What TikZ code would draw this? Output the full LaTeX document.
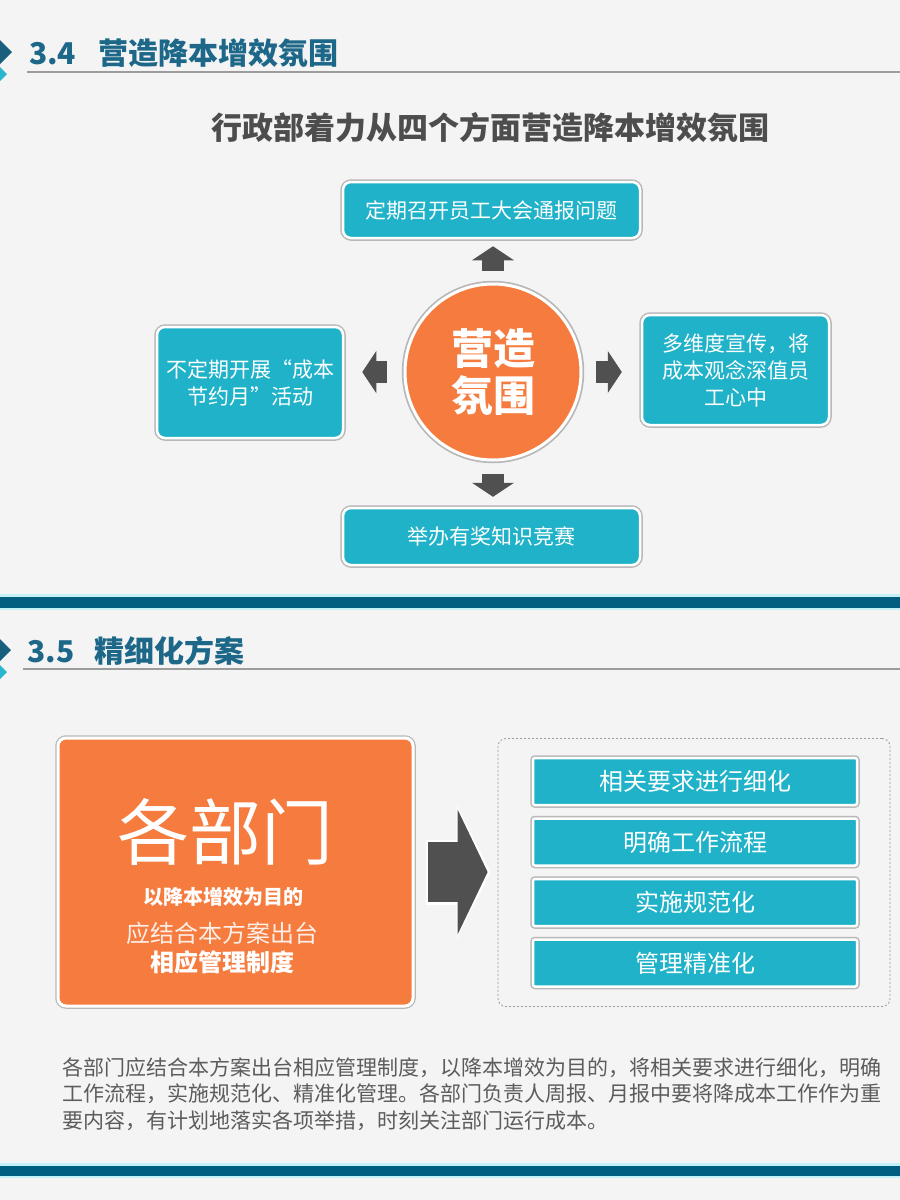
\documentclass[tikz,border=0pt]{standalone}
\usepackage{fontspec}
\setmainfont{Noto Sans CJK SC}
\usetikzlibrary{arrows.meta,positioning}
\definecolor{pagebg}{HTML}{F4F4F4}
\definecolor{headblue}{HTML}{1D6788}
\definecolor{icondark}{HTML}{1A5E7E}
\definecolor{iconcyan}{HTML}{2BB6CF}
\definecolor{bandblue}{HTML}{025E80}
\definecolor{bandcyan}{HTML}{C4F0F7}
\definecolor{boxteal}{HTML}{1FB2C8}
\definecolor{hotorange}{HTML}{F57C3E}
\definecolor{arrgray}{HTML}{505050}
\definecolor{subgray}{HTML}{4D4D4D}
\definecolor{textgray}{HTML}{5C5C5C}
\definecolor{rulegray}{HTML}{9C9C9C}

\begin{document}
\begin{tikzpicture}[x=1pt,y=-1pt,
    card/.style={rounded corners=8pt,fill=boxteal,draw=white,line width=2.5pt,
      preaction={draw=black!28,line width=5.5pt},text=white,align=center,
      font=\fontsize{21}{27}\selectfont,inner sep=0pt},
    bar/.style={card,rounded corners=2pt,minimum width=324pt,minimum height=47pt,
      font=\fontsize{24}{28}\selectfont},
    headtxt/.style={anchor=west,inner sep=0pt,text=headblue,font=\bfseries\fontsize{30}{34}\selectfont},
    blk/.style={line width=22pt,draw=arrgray,-{Triangle[width=42pt,length=14pt,line width=0pt]}},
    bigarr/.style={line width=60pt,draw=arrgray,-{Triangle[width=125pt,length=30pt,line width=0pt]},
      shorten <=13.5pt,shorten >=10pt},
    bigrim/.style={line width=65pt,draw=white,-{Triangle[width=134pt,length=34pt,line width=0pt]},
      shorten <=11pt,shorten >=7pt}]
  \useasboundingbox (0,0) rectangle (900,1200);
  \fill[pagebg] (0,0) rectangle (900,1200);

  % section 3.4
  \fill[iconcyan] (-5,62) -- (7,74) -- (-5,86) -- (-17,74) -- cycle;
  \fill[icondark] (-5,35) -- (12,52) -- (-5,69) -- (-22,52) -- cycle;
  \node[headtxt] (h1) at (29,53) {3.4\hspace{22pt}营造降本增效氛围};
  \draw[rulegray,line width=1.2pt] (27,72) -- (900,72);
  \node[text=subgray,font=\bfseries\fontsize{31}{36}\selectfont] (sub) at (490,128)
    {行政部着力从四个方面营造降本增效氛围};

  \node[circle,minimum size=176pt,inner sep=0pt,fill=hotorange,draw=white,line width=3pt,
    preaction={draw=black!28,line width=6.5pt},text=white,align=center,
    font=\bfseries\fontsize{42}{47}\selectfont] (hub) at (493,372) {营造\\氛围};
  \node[card,minimum width=297pt,minimum height=56pt] (top) at (491.5,210) {定期召开员工大会通报问题};
  \node[card,minimum width=186pt,minimum height=111pt] (left) at (250,382.5) {不定期开展“成本\\节约月”活动};
  \node[card,minimum width=187pt,minimum height=110pt] (right) at (735.5,370) {多维度宣传，将\\成本观念深值员\\工心中};
  \node[card,minimum width=297pt,minimum height=57pt] (bot) at (491.5,536.5) {举办有奖知识竞赛};
  \draw[blk,shorten <=12pt,shorten >=7pt] (hub.north) -- (hub.north |- top.south);
  \draw[blk,shorten <=12pt,shorten >=10pt] (hub.south) -- (hub.south |- bot.north);
  \draw[blk,shorten <=17pt,shorten >=18pt] (hub.west) -- (hub.west -| left.east);
  \draw[blk,shorten <=13pt,shorten >=19pt] (hub.east) -- (hub.east -| right.west);

  \fill[bandcyan] (0,594) rectangle (900,610);
  \fill[bandblue] (0,597) rectangle (900,607.5);

  % section 3.5
  \fill[iconcyan] (-5,660) -- (7,672) -- (-5,684) -- (-17,672) -- cycle;
  \fill[icondark] (-5,634) -- (11,650) -- (-5,666) -- (-21,650) -- cycle;
  \node[headtxt] (h2) at (27,651) {3.5\hspace{20pt}精细化方案};
  \draw[rulegray,line width=1.2pt] (23,669) -- (900,669);

  \node[card,fill=hotorange,line width=3pt,minimum width=355pt,minimum height=268pt] (dept) at (235.5,872) {};
  \node[text=white,font=\fontsize{72}{72}\selectfont] (deptname) at ([xshift=-10pt,yshift=40pt]dept.center) {各部门};
  \node[text=white,font=\bfseries\fontsize{20}{24}\selectfont] (aim) at ([xshift=-12pt,yshift=-25pt]dept.center) {以降本增效为目的};
  \node[text=white!88!hotorange,font=\fontsize{24}{28}\selectfont] (rule1) at ([xshift=-13pt,yshift=-61pt]dept.center) {应结合本方案出台};
  \node[text=white,font=\bfseries\fontsize{24}{28}\selectfont] (rule2) at ([xshift=-13pt,yshift=-90pt]dept.center) {相应管理制度};

  \node[draw=rulegray,dash pattern=on 2pt off 2pt,line width=0.8pt,rounded corners=8pt,
    minimum width=392pt,minimum height=268pt] (plan) at (694,872.5) {};
  \node[bar] (b1) at (695,781.5) {相关要求进行细化};
  \node[bar,below=11pt of b1] (b2) {明确工作流程};
  \node[bar,below=11pt of b2] (b3) {实施规范化};
  \node[bar,below=11pt of b3] (b4) {管理精准化};
  \draw[bigrim] (dept.east) -- (dept.east -| plan.west);
  \draw[bigarr] (dept.east) -- (dept.east -| plan.west);

  \node[anchor=north west,align=left,inner sep=0pt,text=textgray,font=\fontsize{21}{26.5}\selectfont] (note) at (62,1057)
    {各部门应结合本方案出台相应管理制度，以降本增效为目的，将相关要求进行细化，明确\\
     工作流程，实施规范化、精准化管理。各部门负责人周报、月报中要将降成本工作作为重\\
     要内容，有计划地落实各项举措，时刻关注部门运行成本。};

  \fill[bandcyan] (0,1163) rectangle (900,1178);
  \fill[bandblue] (0,1166) rectangle (900,1176);
\end{tikzpicture}
\end{document}
